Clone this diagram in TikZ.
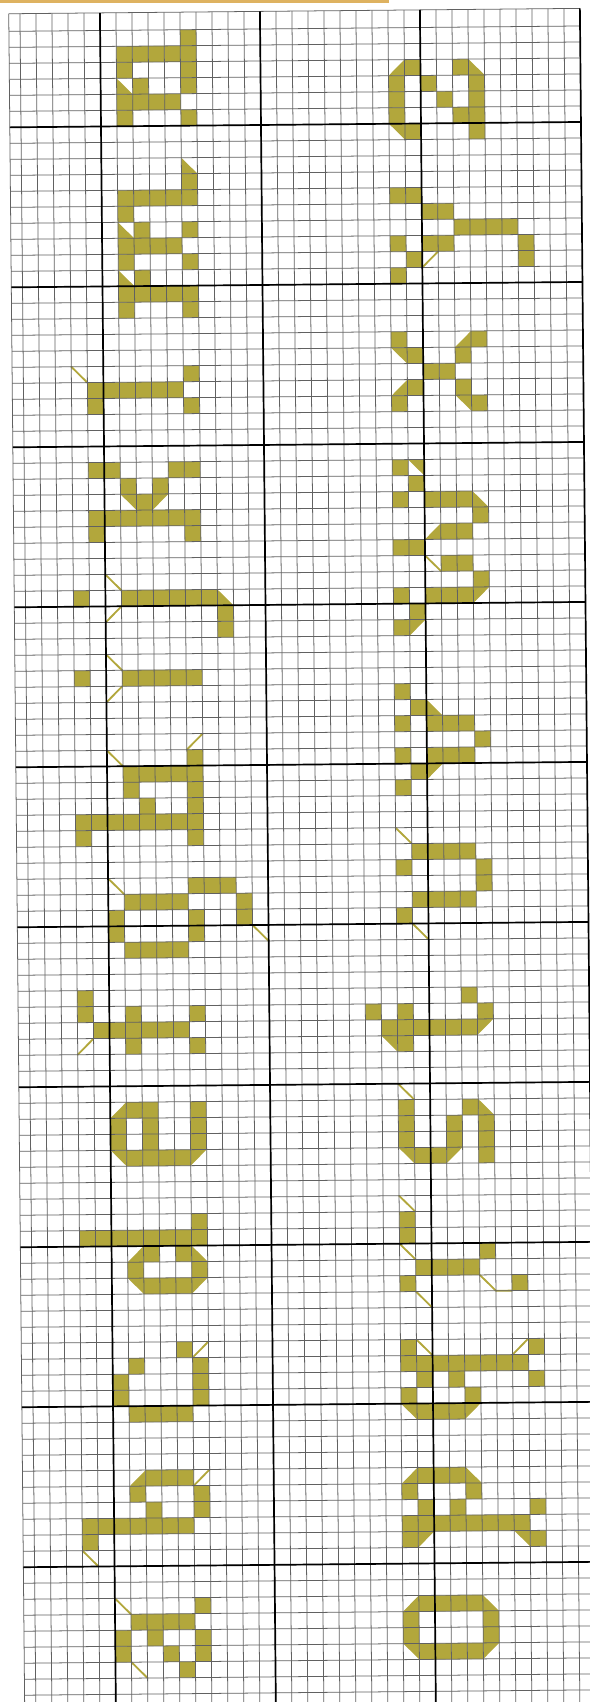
\documentclass[tikz,border=0pt]{standalone}
\usepackage{tikz}
\usetikzlibrary{calc}
\definecolor{floss}{RGB}{178,167,60}
\definecolor{edgetan}{RGB}{222,178,96}
\tikzset{
  stitch/.style={fill=floss},
  halfst/.style={fill=floss},
  backst/.style={draw=floss, line width=1.3pt, line cap=round},
  gridline/.style={draw=black!62, line width=0.55pt},
  majorline/.style={draw=black, line width=1.2pt},
}
\newcommand{\full}[2]{\fill[stitch] (#1,{-(#2)}) rectangle ++(1,-1);}
\newcommand{\hul}[2]{\fill[halfst] (#1,{-(#2)}) -- ++(1,0) -- ++(-1,-1) -- cycle;}
\newcommand{\hur}[2]{\fill[halfst] (#1,{-(#2)}) -- ++(1,0) -- ++(0,-1) -- cycle;}
\newcommand{\hll}[2]{\fill[halfst] (#1,{-(#2)}) -- ++(0,-1) -- ++(1,0) -- cycle;}
\newcommand{\hlr}[2]{\fill[halfst] ({#1+1},{-(#2)}) -- ++(0,-1) -- ++(-1,0) -- cycle;}
\newcommand{\bsl}[2]{\draw[backst] (#1,{-(#2)}) -- ++(1,-1);}
\newcommand{\fsl}[2]{\draw[backst] (#1,{-(#2)-1}) -- ++(1,1);}

\begin{document}
\begin{tikzpicture}[x=4mm,y=4mm]
\useasboundingbox (-6.3125,7.906) rectangle (30.5625,-98.47);
\clip (-6.3125,7.906) rectangle (30.5625,-98.47);
\fill[edgetan] (-6.3125,7.906) rectangle (18,7.72);

\begin{scope}[rotate=0.54]
% left column: a to n
\foreach \i/\j in {5/-6,1/-5,2/-5,3/-5,4/-5,5/-5,1/-4,5/-4,2/-3,5/-3,1/-2,2/-2,3/-2,4/-2,1/-1,5/-1} {\full{\i}{\j}}
\hll{1}{-3}
\foreach \i/\j in {5/3,1/4,2/4,3/4,4/4,5/4,1/5,2/6,5/6,1/7,2/7,3/7,4/7,1/8,5/8,2/9,1/10,2/10,3/10,4/10,5/10,1/11,5/11} {\full{\i}{\j}}
\hll{5}{2} \hll{1}{6} \hll{1}{9}
\foreach \i/\j in {5/15,-1/16,0/16,1/16,2/16,3/16,4/16,-1/17,5/17} {\full{\i}{\j}}
\bsl{-2}{15}
\foreach \i/\j in {-1/21,0/21,4/21,5/21,1/22,3/22,2/23,-1/24,0/24,1/24,2/24,3/24,4/24,5/24,-1/25,5/25} {\full{\i}{\j}}
\hur{1}{23} \hul{3}{23}
\foreach \i/\j in {-2/29,1/29,2/29,3/29,4/29,5/29,6/29,7/30,7/31} {\full{\i}{\j}}
\hll{7}{29} \bsl{0}{28} \fsl{0}{30}
\foreach \i/\j in {-2/34,1/34,2/34,3/34,4/34,5/34} {\full{\i}{\j}}
\bsl{0}{33} \fsl{0}{35}
\foreach \i/\j in {5/39,1/40,2/40,3/40,4/40,5/40,1/41,5/41,2/42,5/42,-2/43,-1/43,0/43,1/43,2/43,3/43,4/43,5/43,-2/44,5/44} {\full{\i}{\j}}
\fsl{5}{38} \bsl{0}{39}
\foreach \i/\j in {5/47,6/47,7/47,1/48,2/48,3/48,4/48,8/48,0/49,5/49,8/49,0/50,5/50,1/51,2/51,3/51,4/51} {\full{\i}{\j}}
\bsl{0}{47} \bsl{9}{50}
\foreach \i/\j in {-2/54,-2/55,1/55,5/55,-1/56,0/56,1/56,2/56,3/56,4/56,1/57,5/57} {\full{\i}{\j}}
\fsl{-2}{57}
\foreach \i/\j in {1/61,2/61,5/61,0/62,2/62,5/62,0/63,2/63,5/63,1/64,2/64,3/64,4/64} {\full{\i}{\j}}
\hlr{0}{61} \hur{0}{64} \hul{5}{64}
\foreach \i/\j in {5/68,-2/69,-1/69,0/69,1/69,2/69,3/69,4/69,5/69,2/70,4/70,1/71,5/71,2/72,3/72,4/72} {\full{\i}{\j}}
\hlr{1}{70} \hll{5}{70} \hur{1}{72} \hul{5}{72}
\foreach \i/\j in {4/76,1/77,5/77,0/78,5/78,0/79,5/79,1/80,2/80,3/80,4/80} {\full{\i}{\j}}
\fsl{5}{76}
\foreach \i/\j in {2/84,3/84,4/84,1/85,5/85,2/86,5/86,-2/87,-1/87,0/87,1/87,2/87,3/87,4/87,-2/88} {\full{\i}{\j}}
\hlr{1}{84} \fsl{5}{84} \bsl{-2}{89}
\foreach \i/\j in {5/92,1/93,2/93,3/93,4/93,0/94,2/94,5/94,0/95,3/95,5/95,4/96} {\full{\i}{\j}}
\bsl{0}{92} \bsl{1}{96}

% right column: o to z
\foreach \i/\j in {19/-4,22/-4,18/-3,20/-3,23/-3,18/-2,21/-2,23/-2,18/-1,22/-1,23/-1,19/0,23/0} {\full{\i}{\j}}
\hlr{18}{-4} \hll{23}{-4} \hur{18}{0}
\foreach \i/\j in {18/4,19/4,20/5,21/5,22/6,23/6,24/6,25/6,18/7,20/7,21/7,26/7,19/8,26/8,18/9} {\full{\i}{\j}}
\fsl{20}{8}
\foreach \i/\j in {18/13,23/13,19/14,22/14,20/15,21/15,19/16,22/16,18/17,23/17} {\full{\i}{\j}}
\hlr{22}{13} \hur{18}{14} \hlr{18}{16} \hur{22}{17}
\foreach \i/\j in {18/21,19/22,18/23,20/23,21/23,22/23,23/24,21/25,22/25,18/26,19/26,21/27,22/27,23/28,18/29,20/29,21/29,22/29,19/30,18/31} {\full{\i}{\j}}
\hur{19}{21} \hll{23}{23} \hlr{20}{25} \hul{23}{29} \hul{19}{31} \bsl{20}{27}
\foreach \i/\j in {18/35,19/36,18/37,20/37,21/37,22/37,23/38,18/39,20/39,21/39,22/39,19/40,18/41} {\full{\i}{\j}}
\hll{20}{36} \hul{20}{40}
\foreach \i/\j in {19/45,20/45,21/45,22/45,18/46,23/46,23/47,19/48,20/48,21/48,22/48,18/49} {\full{\i}{\j}}
\bsl{18}{44} \bsl{19}{50}
\foreach \i/\j in {16/55,18/55,22/54,23/55,17/56,18/56,19/56,20/56,21/56,22/56,18/57} {\full{\i}{\j}}
\hul{23}{56} \hur{17}{57}
\foreach \i/\j in {18/61,22/61,18/62,21/62,23/62,18/63,21/63,23/63,19/64,20/64,23/64} {\full{\i}{\j}}
\hll{23}{61} \hur{18}{64} \hul{21}{64} \bsl{18}{60}
\foreach \i/\j in {18/68,18/69,23/70,19/71,20/71,21/71,22/71,18/72,25/72} {\full{\i}{\j}}
\bsl{18}{67} \bsl{18}{70} \bsl{19}{73} \bsl{23}{72}
\draw[backst] (24,-73) -- (25,-73);
\foreach \i/\j in {18/76,26/76,18/77,19/77,20/77,21/77,22/77,23/77,24/77,25/77,19/78,21/78,26/78,18/79,22/79,19/80,20/80,21/80} {\full{\i}{\j}}
\bsl{19}{76} \fsl{25}{76} \hur{18}{80} \hul{22}{80}
\foreach \i/\j in {19/84,20/84,21/84,18/85,22/85,19/86,21/86,26/86,18/87,19/87,20/87,21/87,22/87,23/87,24/87,25/87,18/88,26/88} {\full{\i}{\j}}
\hlr{18}{84} \hll{22}{84} \hul{19}{88} \hur{25}{88}
\foreach \i/\j in {19/92,20/92,21/92,22/92,18/93,23/93,18/94,23/94,19/95,20/95,21/95,22/95} {\full{\i}{\j}}
\hlr{18}{92} \hll{23}{92} \hur{18}{95} \hul{23}{95}

% chart grid
\foreach \x in {-5,...,29} {\draw[gridline] (\x,7.1) -- (\x,-101);}
\foreach \y in {-101,...,6} {\draw[gridline] (-5.7,\y) -- (30,\y);}
\draw[gridline] (-5.7,7.1) -- (30,7.1);
\draw[gridline] (-5.7,7.1) -- (-5.7,-101);
\foreach \x in {0,10,20,30} {\draw[majorline] (\x,7.1) -- (\x,-101);}
\foreach \y in {0,-10,...,-90} {\draw[majorline] (-5.7,\y) -- (30,\y);}
\end{scope}
\end{tikzpicture}
\end{document}
